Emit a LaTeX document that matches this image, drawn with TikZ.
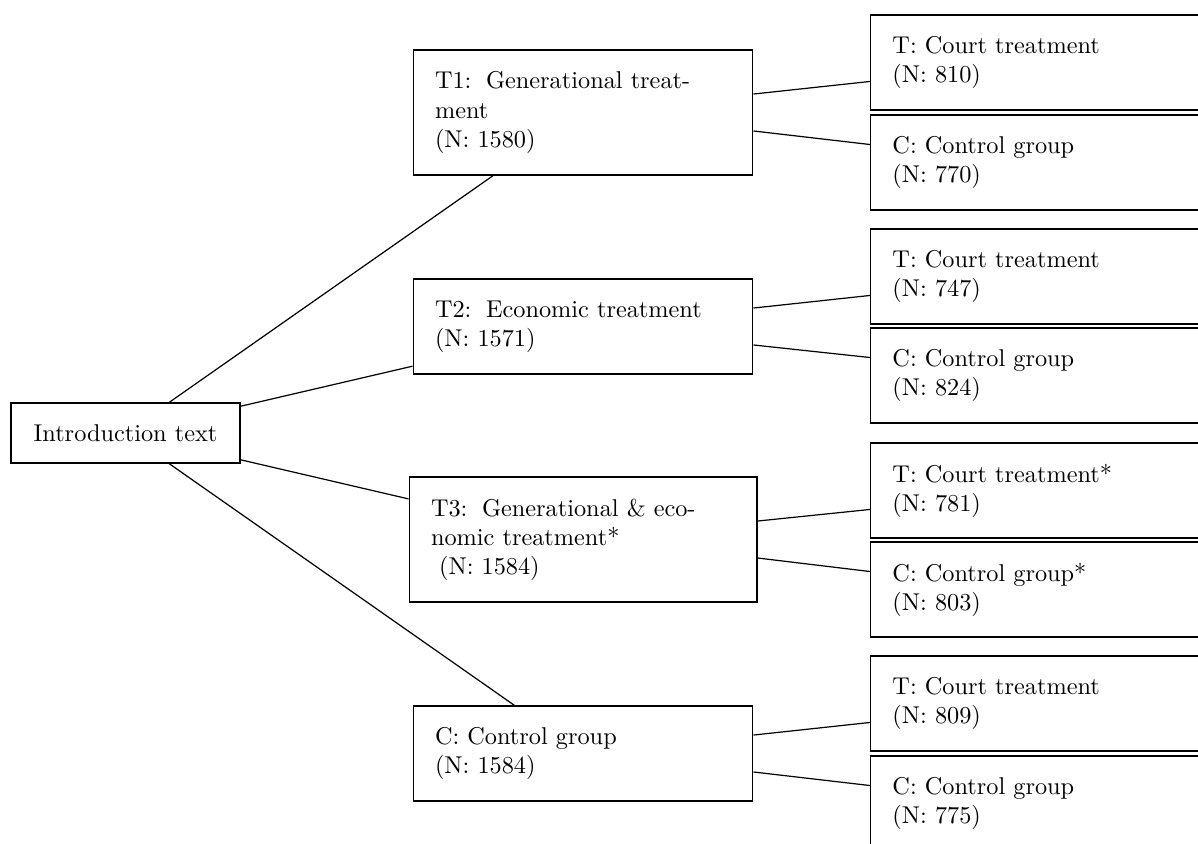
\documentclass[tikz,border=0pt]{standalone}
\usetikzlibrary{positioning}
\begin{document}
\begin{tikzpicture}[x=0.4115pt,y=-0.4115pt,
  line width=0.5pt,
  box/.style={draw, rectangle, inner xsep=9pt, inner ysep=0pt, align=left},
  midbox/.style={box, text width=121.8pt, minimum height=39.1pt},
  tallbox/.style={box, text width=121.8pt, minimum height=51.4pt},
  widebox/.style={box, text width=125.1pt, minimum height=51.4pt},
  leafbox/.style={box, anchor=west, text width=121.8pt, minimum height=39.1pt},
  link/.style={draw, line width=0.5pt}]
\useasboundingbox (0,0) rectangle (1198,843);
\clip (0,0) rectangle (1198,843);

\node[box, minimum width=94.2pt, minimum height=24.7pt, align=center] (intro) at (125.5,433) {Introduction text};

\node[tallbox] (t1) at (583,112.5) {T1:\hspace{6pt}Generational treat-\\ment\\(N: 1580)};
\node[midbox] (t2) at (583,326.5) {T2:\hspace{6pt}Economic treatment\\(N: 1571)};
\node[widebox] (t3) at (583,539.5) {T3:\hspace{6pt}Generational \& eco-\\nomic treatment*\\\ (N: 1584)};
\node[midbox] (c) at (583,753.5) {C: Control group\\(N: 1584)};

\node[leafbox] (tc1) at (870,62.5) {T: Court treatment\\(N: 810)};
\node[leafbox] (cc1) at (870,162.5) {C: Control group\\(N: 770)};
\node[leafbox] (tc2) at (870,276.5) {T: Court treatment\\(N: 747)};
\node[leafbox] (cc2) at (870,375.5) {C: Control group\\(N: 824)};
\node[leafbox] (tc3) at (870,490.5) {T: Court treatment*\\(N: 781)};
\node[leafbox] (cc3) at (870,589.5) {C: Control group*\\(N: 803)};
\node[leafbox] (tc4) at (870,703.5) {T: Court treatment\\(N: 809)};
\node[leafbox] (cc4) at (870,803.5) {C: Control group\\(N: 775)};

\path[link] (intro) -- (t1);
\path[link] (intro) -- (t2);
\path[link] (intro) -- (t3);
\path[link] (intro) -- (c);

\foreach \p/\a/\b in {t1/tc1/cc1, t2/tc2/cc2, t3/tc3/cc3, c/tc4/cc4}{
  \path[link] ([yshift=7.6pt]\p.east) -- ([yshift=-7.8pt]\a.west);
  \path[link] ([yshift=-7.6pt]\p.east) -- ([yshift=7.4pt]\b.west);
}
\end{tikzpicture}
\end{document}
